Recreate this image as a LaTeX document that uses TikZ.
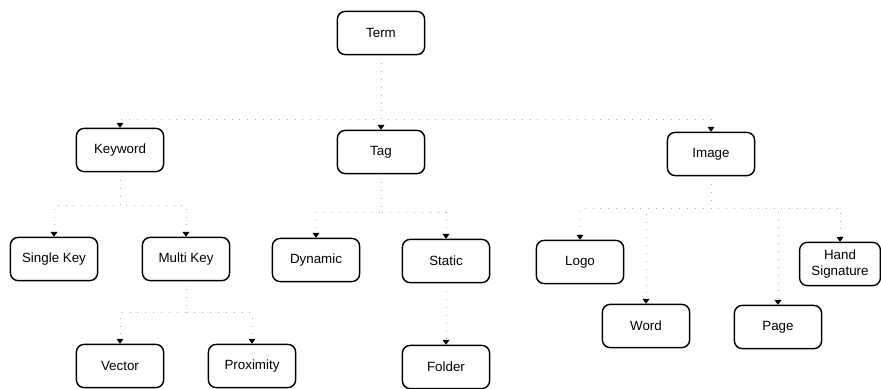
\documentclass[tikz,border=0pt]{standalone}
\usepackage{fontspec}
\setmainfont{Liberation Sans}
\usetikzlibrary{arrows.meta}

\tikzset{
  termbox/.style={draw=black, line width=1pt, rounded corners=5.5pt,
    minimum width=2.18cm, minimum height=1.08cm, align=center,
    font=\fontsize{9.5}{11}\selectfont},
  link/.style={draw=black!30, dash pattern=on 0.6pt off 5pt, thin,
    -{Triangle[color=black, length=3.5pt, width=5pt]}}
}

\begin{document}
\begin{tikzpicture}[x=0.025cm, y=-0.025cm]

  \useasboundingbox (0,0) rectangle (881,388);

% ROOT
  \node[termbox] (term) at (381, 33) {Term};

% FIRST LEVEL
  \node[termbox] (keyword) at (120,150) {Keyword};
  \node[termbox] (tag)     at (381,152) {Tag};
  \node[termbox] (image)   at (711,154) {Image};

% KEYWORD branch
  \node[termbox] (single)    at ( 54,259) {Single Key};
  \node[termbox] (multi)     at (186,259) {Multi Key};
  \node[termbox] (vector)    at (120,366) {Vector};
  \node[termbox] (proximity) at (252,366) {Proximity};

% TAG branch
  \node[termbox] (dynamic) at (316,260) {Dynamic};
  \node[termbox] (static)  at (446,261) {Static};
  \node[termbox] (folder)  at (446,367) {Folder};

% IMAGE branch
  \node[termbox] (logo) at (580,262) {Logo};
  \node[termbox, minimum width=2.02cm] (hand) at (840,264) {Hand\\Signature};
  \node[termbox] (word) at (646,326) {Word};
  \node[termbox] (page) at (778,327) {Page};

% links
  \foreach \c in {keyword, tag, image}
      \draw[link] (term.south) -- ++(0,64) -| (\c.north);
  \foreach \c in {single, multi}
      \draw[link] (keyword.south) -- ++(0,33) -| (\c.north);
  \foreach \c in {dynamic, static}
      \draw[link] (tag.south) -- ++(0,38) -| (\c.north);
  \foreach \c in {vector, proximity}
      \draw[link] (multi.south) -- ++(0,31) -| (\c.north);
  \draw[link] (static.south) -- (folder.north);
  \foreach \c in {logo, hand, word, page}
      \draw[link] (image.south) -- ++(0,32) -| (\c.north);

\end{tikzpicture}
\end{document}
